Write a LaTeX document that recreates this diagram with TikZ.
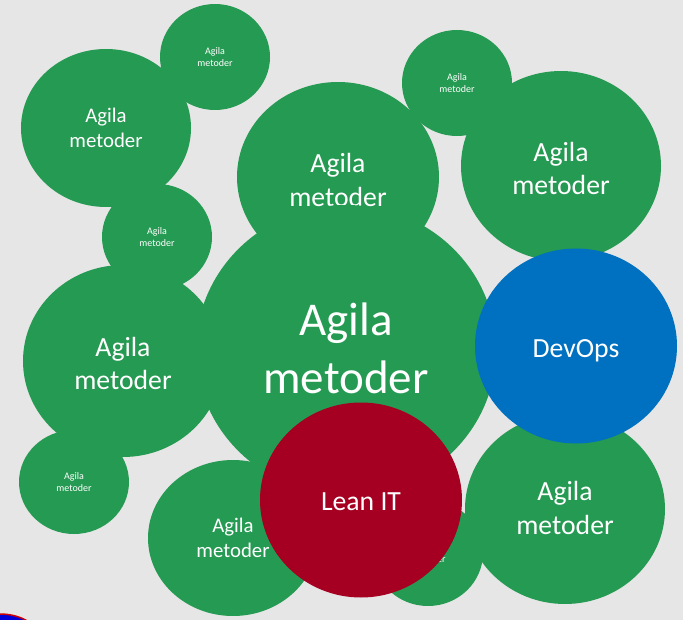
\documentclass[tikz,border=0pt]{standalone}
\usepackage{fontspec}
\setmainfont{Carlito}
\usetikzlibrary{shapes.geometric}
\definecolor{bgc}{HTML}{E7E6E6}
\definecolor{agile}{HTML}{259A52}
\definecolor{devops}{HTML}{0070C0}
\definecolor{lean}{HTML}{A50021}
\newcommand\bubS{\fontsize{10}{12}\selectfont}
\newcommand\bubM{\fontsize{20.8}{25.5}\selectfont}
\newcommand\bubL{\fontsize{27.7}{33.5}\selectfont}
\newcommand\bubXL{\fontsize{47}{58}\selectfont}
\tikzset{
  bubble/.style n args={2}{ellipse, inner sep=0pt, outer sep=0pt,
    minimum width=#1pt, minimum height=#2pt},
  agilebub/.style={fill=agile},
  smallbub/.style={agilebub, bubble={110}{106}},
  txt/.style={align=center, text=white, inner sep=0pt},
}
\begin{document}
\begin{tikzpicture}[x=1pt,y=1pt]
\useasboundingbox (0,0) rectangle (683,-620);
\fill[bgc] (0,0) rectangle (683,-620);
% green bubbles
\node[smallbub] (g1) at (215,-57) {};
\node[txt, font=\bubS] (t1) at (g1.center) {Agila\\metoder};
\node[agilebub, bubble={170}{158}] (g2) at (106,-128) {};
\node[txt, font=\bubM] (t2) at (g2.center) {Agila\\metoder};
\node[smallbub] (g3) at (157,-237) {};
\node[txt, font=\bubS] (t3) at (g3.center) {Agila\\metoder};
\node[agilebub, bubble={202}{190}] (g4) at (338,-177) {};
\node[txt, font=\bubL] (t4) at ([yshift=-3pt]g4.center) {Agila\\metoder};
\node[smallbub] (g5) at (457,-83) {};
\node[txt, font=\bubS] (t5) at (g5.center) {Agila\\metoder};
\node[agilebub, bubble={200}{190}] (g6) at (561,-166) {};
\node[txt, font=\bubL] (t6) at ([yshift=-2.5pt]g6.center) {Agila\\metoder};
\node[agilebub, bubble={300}{290}] (g7) at (346,-350) {};
\node[txt, font=\bubXL] (t7) at ([yshift=2pt]g7.center) {Agila\\metoder};
\node[agilebub, bubble={200}{192}] (g8) at (123,-361) {};
\node[txt, font=\bubL] (t8) at ([yshift=-2.5pt]g8.center) {Agila\\metoder};
\node[smallbub, bubble={110}{104}] (g9) at (74,-482) {};
\node[txt, font=\bubS] (t9) at (g9.center) {Agila\\metoder};
\node[agilebub, bubble={170}{156}] (g10) at (233,-538) {};
\node[txt, font=\bubM] (t10) at (g10.center) {Agila\\metoder};
\node[smallbub] (g11) at (428,-553) {};
\node[txt, font=\bubS] (t11) at (g11.center) {Agila\\metoder};
\node[agilebub, bubble={200}{190}] (g12) at (565,-509) {};
\node[txt, font=\bubL] (t12) at ([yshift=1pt]g12.center) {Agila\\metoder};
% coloured bubbles
\node[fill=devops, bubble={202}{195}] (devops) at (576,-346) {};
\node[txt, font=\bubL] (tdevops) at ([yshift=-4.5pt]devops.center) {DevOps};
\node[fill=lean, bubble={202}{195}] (lean) at (361,-500) {};
\node[txt, font=\bubL] (tlean) at ([yshift=-2pt]lean.center) {Lean IT};
% partly visible logo at the bottom-left corner
\node[ellipse, fill=blue!85!black, draw=red!80!black, line width=1.5pt,
  minimum width=80pt, minimum height=52pt, inner sep=0pt] (logo) at (0,-640) {};
\end{tikzpicture}
\end{document}
